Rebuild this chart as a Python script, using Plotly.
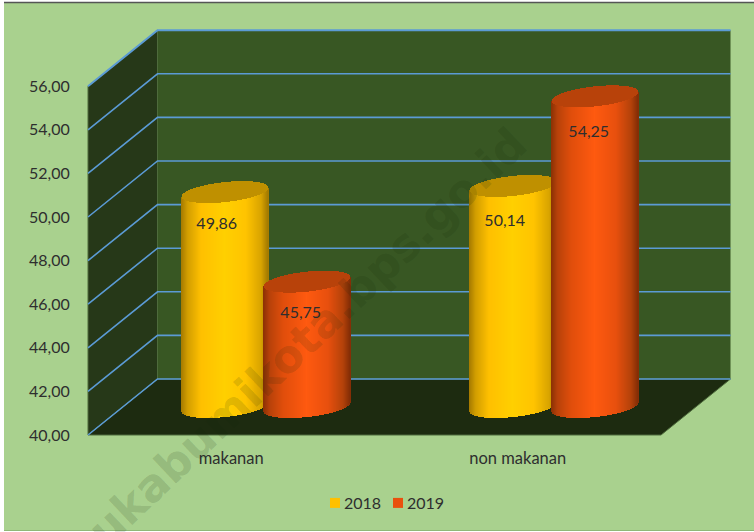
import numpy as np
import plotly.graph_objects as go

categories = ["makanan", "non makanan"]
series_names = ["2018", "2019"]
values_2018 = [49.86, 50.14]
values_2019 = [45.75, 54.25]
axis_ticks = [40, 42, 44, 46, 48, 50, 52, 54, 56]

W, H = 754, 532
PX_X = 286.5           # pixels per category
PX_Y = 21.8            # pixels per value unit
X0, Y0 = 88, 435       # pixel position of category edge / value 40
xr = [(0 - X0) / PX_X - 0.5, (W - X0) / PX_X - 0.5]
yr = [40 - (H - Y0) / PX_Y, 40 + Y0 / PX_Y]
DX, DV = 69.5 / PX_X, 56 / PX_Y
XL, XR = -0.5, 1.5
VMIN, VMAX = axis_ticks[0], axis_ticks[-1]

BG, BACK, SIDE, FLOOR, GRID = "#A9D18E", "#385723", "#263818", "#1D2B10", "#5B9BD5"
TEXT = "#2E2E2E"
FONT = "Lato"


def poly(pts, fill, line=None, w=0):
    d = "M " + " L ".join(f"{x},{y}" for x, y in pts)
    return dict(type="path", path=d + (" Z" if fill else ""), xref="x", yref="y", layer="below",
                fillcolor=fill or "rgba(0,0,0,0)",
                line=dict(color=line or "rgba(0,0,0,0)", width=w))


shapes = [
    dict(type="rect", xref="paper", yref="paper", x0=4 / W, x1=1, y0=1.5 / H, y1=1 - 3 / H,
         fillcolor=BG, line_width=0, layer="below"),
    dict(type="line", xref="paper", yref="paper", x0=4 / W, x1=1, y0=1 - 2.5 / H, y1=1 - 2.5 / H,
         line=dict(color="#555555", width=1.5), layer="below"),
    dict(type="line", xref="paper", yref="paper", x0=4 / W, x1=1, y0=1.5 / H, y1=1.5 / H,
         line=dict(color="#8FB878", width=1), layer="below"),
    poly([(XL + DX, VMIN + DV), (XR + DX, VMIN + DV), (XR + DX, VMAX + DV), (XL + DX, VMAX + DV)], BACK),
    poly([(XL, VMIN), (XL + DX, VMIN + DV), (XL + DX, VMAX + DV), (XL, VMAX)], SIDE, "#4E6B3C", 1),
    poly([(XL, VMIN), (XR, VMIN), (XR + DX, VMIN + DV), (XL + DX, VMIN + DV)], FLOOR, "#4E6B3C", 1),
]
for t in axis_ticks:
    shapes.append(poly([(XL, t), (XL + DX, t + DV), (XR + DX, t + DV)], None, GRID,
                       2 if t == VMAX else 1.6))

A = 43 / PX_X                  # cylinder half width
OFFS = {0: -41 / PX_X, 1: 41 / PX_X}
SPREAD = 288 / PX_X            # distance between cylinder groups
B, S = 10 / PX_Y, 4.5 / PX_Y   # ellipse half height and tilt
LABEL_DROP = [32.5 / PX_Y, 36.5 / PX_Y]
LABEL_SHIFT = [-8 / PX_X, -6 / PX_X]
U = np.linspace(-1, 1, 87)
STOPS_U = [-1, -0.86, -0.55, 0.0, 0.5, 0.85, 1]
BODY = {
    0: ["#A87C00", "#D29E00", "#FFC000", "#FFD000", "#FFC400", "#D9A400", "#A67C00"],
    1: ["#8E3205", "#B8420A", "#E04E0C", "#FF5A10", "#E8500E", "#B4420A", "#862E06"],
}
TOP = {0: "#BF9000", 1: "#B8420A"}


def hex2rgb(c):
    return [int(c[i:i + 2], 16) for i in (1, 3, 5)]


def ramp(cols):
    arr = np.array([hex2rgb(c) for c in cols], float)
    return [f"rgb({int(np.interp(u, STOPS_U, arr[:, 0]))},{int(np.interp(u, STOPS_U, arr[:, 1]))},"
            f"{int(np.interp(u, STOPS_U, arr[:, 2]))})" for u in U]


def group_x(c):
    return 0.5 + (c - 0.5) * SPREAD + DX / 2 + 0.5 / PX_X


fig = go.Figure()
all_vals = {0: values_2018, 1: values_2019}
half = np.sqrt(1 - U ** 2)
for c in range(len(categories)):
    for s in range(2):
        v = all_vals[s][c]
        cx = group_x(c) + OFFS[s]
        xs = cx + A * U
        base = VMIN + DV / 2 + S * U - B * half
        top_mid = v + DV / 2 + S * U
        fig.add_bar(x=xs, y=top_mid - base, base=base, width=1.3 / PX_X,
                    marker=dict(color=ramp(BODY[s]), line_width=0),
                    showlegend=False, hoverinfo="skip")
        fig.add_bar(x=xs, y=2 * B * half, base=top_mid - B * half, width=1.3 / PX_X,
                    marker=dict(color=TOP[s], line_width=0),
                    showlegend=False, hoverinfo="skip")

lx, ly, lt = [], [], []
for c in range(len(categories)):
    for s in range(2):
        v = all_vals[s][c]
        lx.append(group_x(c) + OFFS[s] + LABEL_SHIFT[s])
        ly.append(v + DV / 2 - LABEL_DROP[c])
        lt.append(f"{v:.2f}".replace(".", ","))
fig.add_scatter(x=lx, y=ly, text=lt, mode="text", textposition="middle center",
                textfont=dict(family=FONT, size=16, color=TEXT), showlegend=False, hoverinfo="skip")

for name, col in zip(series_names, ["#FFC000", "#E9500E"]):
    fig.add_scatter(x=[None], y=[None], mode="markers", name=name,
                    marker=dict(symbol="square", size=10, color=col))

fig.add_annotation(text="ukabumikota.bps.go.id", xref="paper", yref="paper",
                   x=307 / W, y=1 - 337 / H, showarrow=False, textangle=-43.5,
                   font=dict(family="DejaVu Sans", size=45, color="rgba(20,40,10,0.15)",
                             weight="bold"))

fig.update_layout(
    width=W, height=H, margin=dict(l=0, r=0, t=0, b=0),
    paper_bgcolor="white", plot_bgcolor="rgba(0,0,0,0)",
    barmode="overlay", bargap=0, shapes=shapes, showlegend=True,
    font=dict(family=FONT, size=16, color=TEXT),
    xaxis=dict(range=xr, domain=[0, 1], anchor="free", position=(H - Y0) / H,
               tickmode="array", tickvals=list(range(len(categories))), ticktext=categories,
               showgrid=False, zeroline=False, showline=False, ticks="outside",
               ticklen=8, tickcolor="rgba(0,0,0,0)", tickfont=dict(family=FONT, size=16.5, color=TEXT)),
    yaxis=dict(range=yr, domain=[0, 1], anchor="free", position=X0 / W,
               tickmode="array", tickvals=axis_ticks, ticktext=[f"{t:.2f}".replace(".", ",") for t in axis_ticks],
               showgrid=False, zeroline=False, showline=False, ticks="outside",
               ticklen=15, tickcolor="rgba(0,0,0,0)", tickfont=dict(family=FONT, size=16, color=TEXT)),
    legend=dict(orientation="h", x=304 / W, xanchor="left", y=1 - 503 / H, yanchor="middle",
                bgcolor="rgba(0,0,0,0)", font=dict(family=FONT, size=16, color=TEXT),
                entrywidth=18, entrywidthmode="pixels", itemclick=False, itemdoubleclick=False),
)

fig.write_html("out.html", config=dict(displayModeBar=False),
               post_script="document.body.style.margin='0';"
                           "document.querySelectorAll('.legendsymbols').forEach(function(g){"
                           "g.setAttribute('transform','translate(11,0)');});"
                           "document.querySelectorAll('.legend .scrollbox').forEach(function(g){"
                           "g.removeAttribute('clip-path');g.style.clipPath='none';});")
